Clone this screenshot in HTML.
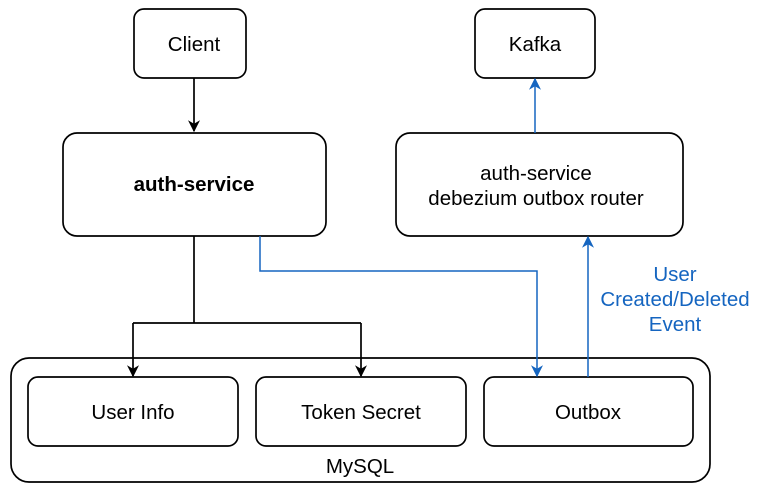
<!DOCTYPE html>
<html><head><style>
body{margin:0;background:#fff;width:759px;height:493px;overflow:hidden}
svg text{font-family:"Liberation Sans",Arial,sans-serif;font-size:20.5px}
</style></head><body>
<svg width="759" height="493" viewBox="0 0 759 493" xmlns="http://www.w3.org/2000/svg">
<defs>
<marker id="ab" viewBox="0 0 10 10" refX="9" refY="5" markerWidth="15" markerHeight="12" markerUnits="userSpaceOnUse" orient="auto"><path d="M0,0 L10,5 L0,10 L3,5 z" fill="#000"/></marker>
<marker id="au" viewBox="0 0 10 10" refX="9" refY="5" markerWidth="15" markerHeight="12" markerUnits="userSpaceOnUse" orient="auto"><path d="M0,0 L10,5 L0,10 L3,5 z" fill="#1565c0"/></marker>
</defs>
<g fill="#fff" stroke="#000" stroke-width="1.7">
<rect x="134" y="9" width="112" height="69" rx="10"/>
<rect x="475" y="9" width="120" height="69" rx="10"/>
<rect x="63" y="133" width="263" height="103" rx="14"/>
<rect x="396" y="133" width="287" height="103" rx="14"/>
<rect x="11" y="358" width="699" height="124" rx="18"/>
<rect x="28" y="377" width="210" height="69" rx="10"/>
<rect x="256" y="377" width="210" height="69" rx="10"/>
<rect x="484" y="377" width="209" height="69" rx="10"/>
</g>
<g fill="none" stroke="#000" stroke-width="1.7">
<path d="M194 78 V131" marker-end="url(#ab)"/>
<path d="M194 236 V323"/>
<path d="M133 323 H361"/>
<path d="M133 323 V376" marker-end="url(#ab)"/>
<path d="M361 323 V376" marker-end="url(#ab)"/>
</g>
<g fill="none" stroke="#1565c0" stroke-width="1.5">
<path d="M260 236 V271 H537 V376" marker-end="url(#au)"/>
<path d="M588 377 V237" marker-end="url(#au)"/>
<path d="M535 133 V79" marker-end="url(#au)"/>
</g>
<g text-anchor="middle" fill="#000">
<text x="194" y="51">Client</text>
<text x="535" y="51">Kafka</text>
<text x="194" y="191" font-weight="bold">auth-service</text>
<text x="536" y="180">auth-service</text>
<text x="536" y="205">debezium outbox router</text>
<text x="133" y="419">User Info</text>
<text x="361" y="419">Token Secret</text>
<text x="588" y="419">Outbox</text>
<text x="360" y="473">MySQL</text>
</g>
<g text-anchor="middle" fill="#1565c0">
<text x="675" y="281">User</text>
<text x="675" y="306">Created/Deleted</text>
<text x="675" y="331">Event</text>
</g>
</svg>
</body></html>
